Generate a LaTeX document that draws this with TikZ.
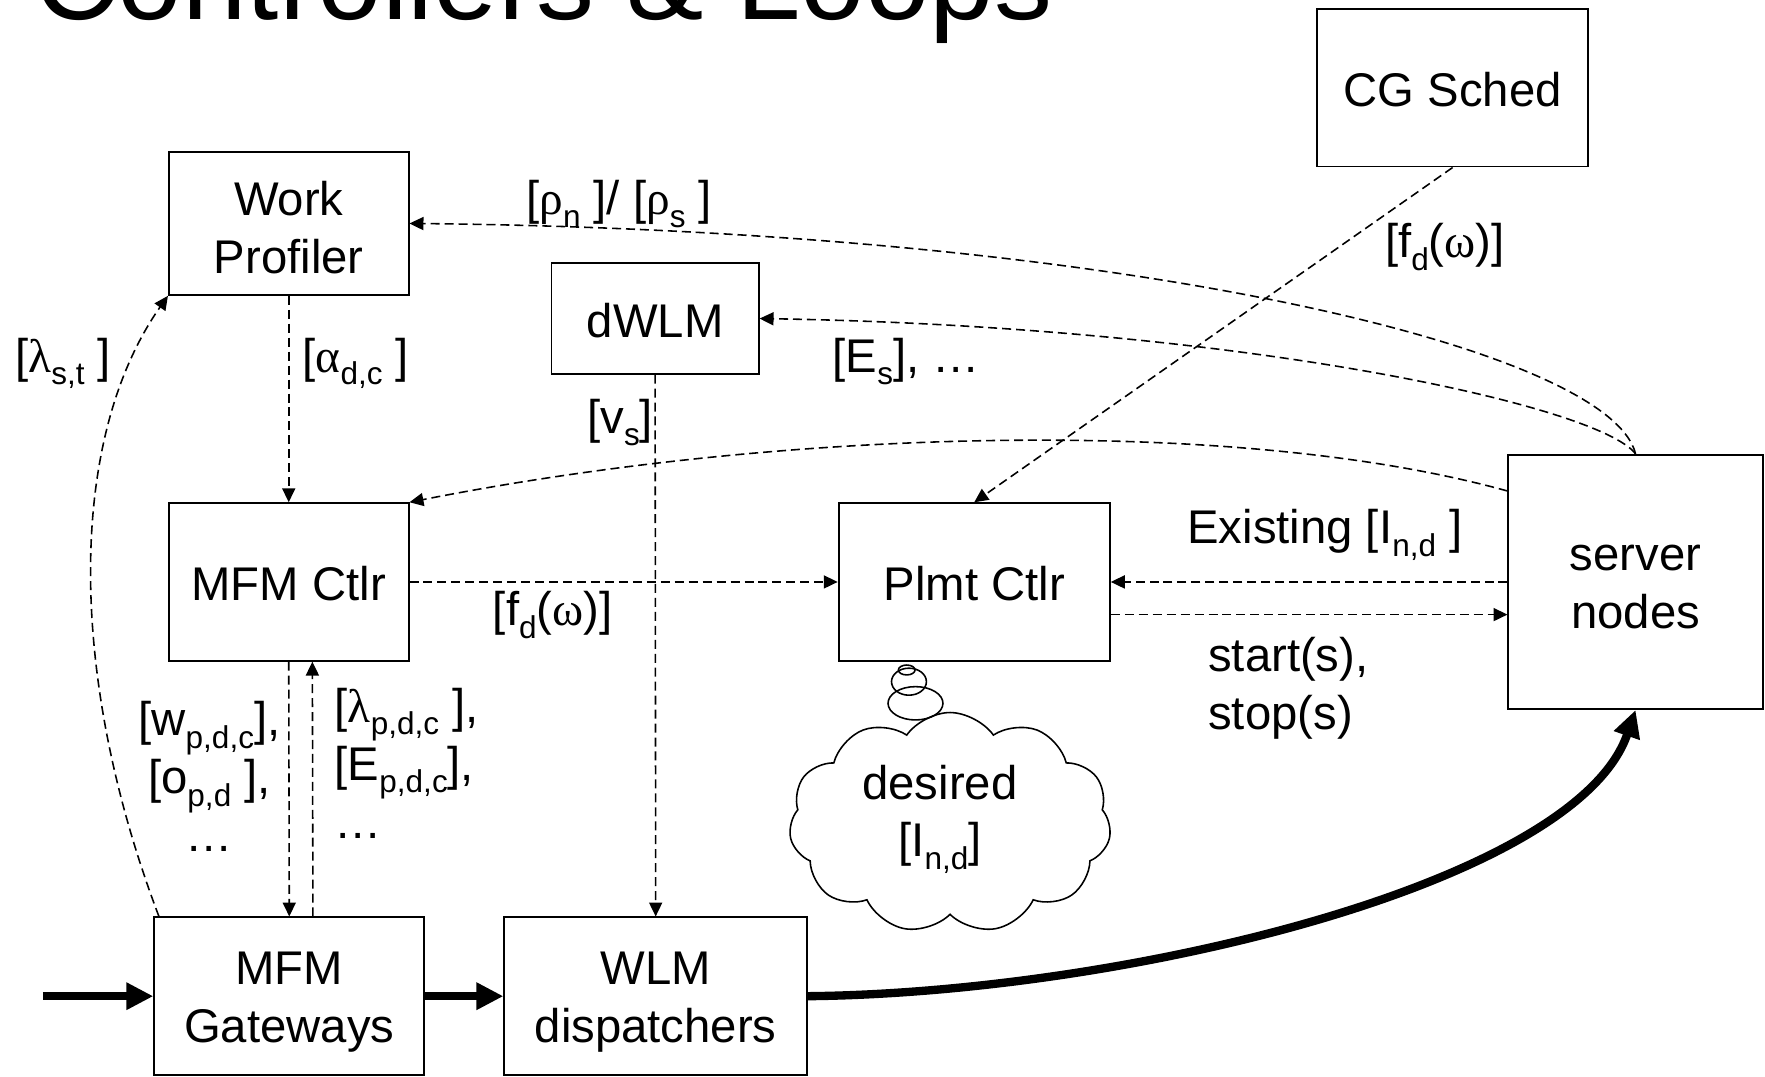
\documentclass[tikz,border=0pt]{standalone}
\usepackage{fontspec}
\setmainfont{Liberation Sans}
\newfontfamily\grkfont{Liberation Serif}
\usetikzlibrary{arrows.meta,shapes.symbols}
\newcommand{\sbs}[1]{\raisebox{-5.5pt}{\fontsize{14}{14}\selectfont #1}}
\newcommand{\gk}[1]{{\grkfont #1}}
\newcommand{\lowr}[1]{\rule{0pt}{#1}}
\begin{document}
\begin{tikzpicture}[x=0.5pt,y=-0.5pt,
  every node/.style={font=\fontsize{21}{25.75}\selectfont},
  box/.style={draw,line width=0.8pt,inner sep=0pt,align=center},
  dline/.style={line width=0.7pt,dash pattern=on 4pt off 2.2pt,-{Triangle[length=6.2pt,width=5.8pt]}},
  bigarrow/.style={line width=3.7pt,-{Triangle[length=12pt,width=11.5pt]}},
  lbl/.style={inner sep=0pt},
  bubble/.style={line width=0.7pt}
]
\useasboundingbox (0,0) rectangle (1568,956);

% title
\node[anchor=base west,inner sep=0pt,font=\fontsize{51.5}{60}\selectfont] (title) at (30,17.5) {Controllers \& Loops};

% boxes
\node[box,minimum width=106.5pt,minimum height=63.5pt] (wp) at (256.5,198.5) {\lowr{19pt}Work\\Profiler};
\node[box,minimum width=92pt,minimum height=49pt] (dwlm) at (582,283) {\lowr{17pt}dWLM};
\node[box,minimum width=120.5pt,minimum height=70pt] (cg) at (1290.5,78) {\lowr{17pt}CG Sched};
\node[box,minimum width=106.5pt,minimum height=70pt] (mfmc) at (256.5,517) {\lowr{17pt}MFM Ctlr};
\node[box,minimum width=120.5pt,minimum height=70pt] (plmt) at (865.5,517) {\lowr{17pt}Plmt Ctlr};
\node[box,minimum width=113pt,minimum height=113pt] (server) at (1453,517) {\lowr{16pt}server\\nodes};
\node[box,minimum width=120pt,minimum height=70pt] (gw) at (257,885) {\lowr{20pt}MFM\\Gateways};
\node[box,minimum width=134.5pt,minimum height=70pt] (wlm) at (582.5,885) {\lowr{20pt}WLM\\dispatchers};

% thick flow arrows
\coordinate (in) at (38,885);
\draw[bigarrow] (in) -- (gw.west);
\draw[bigarrow] (gw.east) -- (wlm.west);
\draw[bigarrow] (wlm.east) .. controls (1000,882) and (1400,785) .. (server.south);

% dashed control arrows
\draw[dline] (wp.south) -- (mfmc.north);
\draw[dline] (server.north) .. controls (1430,310) and (1000,205) .. (wp.east);
\draw[dline] (server.north) .. controls (1420,360) and (1100,290) .. (dwlm.east);
\draw[dline] ([yshift=-16.5pt]server.north west) .. controls (1100,370) and (700,380) .. (mfmc.north east);
\draw[dline] (cg.south) -- (plmt.north);
\draw[dline] (dwlm.south) -- (wlm.north);
\draw[dline] (mfmc.east) -- (plmt.west);
\draw[dline] (server.west) -- (plmt.east);
\draw[dline] ([yshift=-14.5pt]plmt.east) -- ([yshift=-14.5pt]server.west);
\draw[dline] (mfmc.south) -- (gw.north);
\draw[dline] ([xshift=10.5pt]gw.north) -- ([xshift=10.5pt]mfmc.south);
\draw[dline] ([xshift=2.5pt]gw.north west) .. controls (60,600) and (60,390) .. (wp.south west);

% labels
\node[lbl,anchor=base] (lrho) at (550,191) {[\gk{ρ}\sbs{n} ]/ [\gk{ρ}\sbs{s} ]};
\node[lbl,anchor=base] (lfdcg) at (1283.5,229) {[f\sbs{d}(\gk{ω})]};
\node[lbl,anchor=base] (lalpha) at (316,331) {[\gk{α}\sbs{d,c} ]};
\node[lbl,anchor=base] (llst) at (56,331) {[\gk{λ}\sbs{s,t} ]};
\node[lbl,anchor=base] (les) at (805,331) {[E\sbs{s}], …};
\node[lbl,anchor=base] (lvs) at (551,385) {[v\sbs{s}]};
\node[lbl,anchor=base] (lfdm) at (491,556) {[f\sbs{d}(\gk{ω})]};
\node[lbl,anchor=base] (lexist) at (1177,483) {Existing [I\sbs{n,d} ]};
\node[lbl,align=left,anchor=north west] (lstart) at (1073,566) {start(s),\\stop(s)};
\node[lbl,align=center,anchor=north] (lw) at (186,623) {[w\sbs{p,d,c}],\\{}[o\sbs{p,d} ],\\…};
\node[lbl,align=left,anchor=north west] (llam) at (297,611) {[\gk{λ}\sbs{p,d,c} ],\\{}[E\sbs{p,d,c}],\\…};

% thought bubbles and cloud
\draw[bubble] (805.5,595.2) ellipse [x radius=3.7pt, y radius=2.2pt];
\draw[bubble] (807.5,605.6) ellipse [x radius=7.75pt, y radius=6pt];
\draw[bubble] (813.3,624.8) ellipse [x radius=12.2pt, y radius=7.4pt];
\node[cloud,draw,line width=0.7pt,cloud puffs=11,cloud puff arc=110,cloud ignores aspect,
      minimum width=143pt,minimum height=98pt,inner sep=0pt] (cloud) at (844,731) {};
\node[lbl,align=center,anchor=north] (desired) at (835,679) {desired\\{}[I\sbs{n,d}]};
\end{tikzpicture}
\end{document}
